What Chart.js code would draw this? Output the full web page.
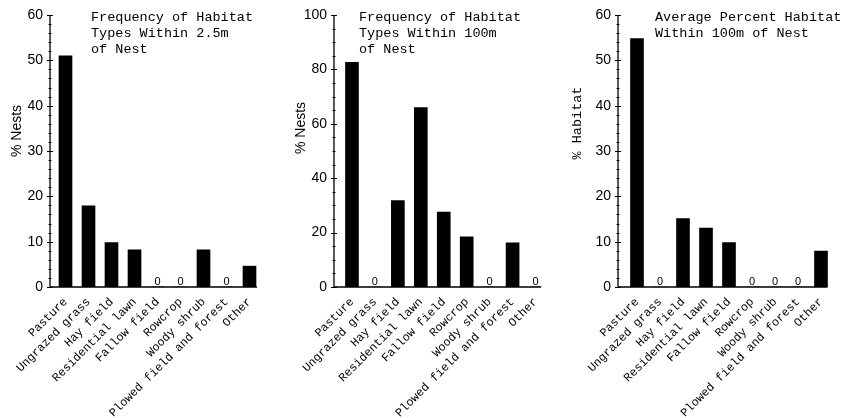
<!DOCTYPE html>
<html lang="en">
<head>
<meta charset="UTF-8">
<title>Habitat types around nests</title>
<script src="https://cdn.jsdelivr.net/npm/chart.js"></script>
<style>
  body { margin: 0; background: #fff; }
  .panel { position: absolute; top: 0; height: 418px; }
</style>
</head>
<body>
<div class="panel" style="left:0;width:280px"><canvas id="nest25"></canvas></div>
<div class="panel" style="left:280px;width:280px"><canvas id="nest100"></canvas></div>
<div class="panel" style="left:560px;width:287px"><canvas id="habitat100"></canvas></div>

<script>
// --- data ---
const habitats = ['Pasture', 'Ungrazed grass', 'Hay field', 'Residential lawn', 'Fallow field',
                  'Rowcrop', 'Woody shrub', 'Plowed field and forest', 'Other'];
const nests25m = [51.0, 17.9, 9.8, 8.2, 0, 0, 8.2, 0, 4.6];      // % nests, within 2.5 m
const nests100m = [82.6, 0, 31.8, 66.0, 27.5, 18.4, 0, 16.2, 0];  // % nests, within 100 m
const habitat100m = [54.8, 0, 15.1, 13.0, 9.8, 0, 0, 0, 7.9];     // average % habitat, within 100 m

const yMaxPct60 = 60, yMaxPct100 = 100;

Chart.defaults.color = '#000';
Chart.defaults.animation = false;
Chart.defaults.responsive = true;
Chart.defaults.maintainAspectRatio = false;

const MONO = "'Liberation Mono', 'DejaVu Sans Mono', monospace";
const SANS = "'Liberation Sans', Arial, sans-serif";

// axis lines, y tick labels, minor ticks, zero labels, inset title and y title
const decorations = {
    id: 'decorations',
    afterDraw(chart, args, o) {
        const { ctx, chartArea } = chart;
        const y = chart.scales.y;
        const y0 = y.getPixelForValue(0);
        const yTop = y.getPixelForValue(y.max);
        ctx.save();
        ctx.strokeStyle = '#000';
        ctx.lineWidth = 1.3;
        ctx.beginPath();
        ctx.moveTo(o.axisX, yTop);
        ctx.lineTo(o.axisX, y0);
        ctx.lineTo(chartArea.right - o.axisEnd, y0);
        ctx.stroke();

        ctx.lineWidth = 1;
        for (let v = 0; v <= y.max; v += o.minor) {
            const py = Math.round(y.getPixelForValue(v)) + 0.5;
            const len = v % o.major === 0 ? 3 : 1.5;
            ctx.beginPath();
            ctx.moveTo(o.axisX - len, py);
            ctx.lineTo(o.axisX + len, py);
            ctx.stroke();
        }

        // tick labels taken from the y scale
        ctx.fillStyle = '#000';
        ctx.font = '14px ' + SANS;
        ctx.textAlign = 'right';
        ctx.textBaseline = 'middle';
        y.ticks.forEach(t => ctx.fillText(String(t.value), o.axisX - 7, y.getPixelForValue(t.value)));

        // "0" over empty categories
        ctx.font = '11px ' + SANS;
        ctx.textAlign = 'center';
        ctx.textBaseline = 'alphabetic';
        const meta = chart.getDatasetMeta(0);
        chart.data.datasets[0].data.forEach((v, i) => {
            if (v === 0) ctx.fillText('0', meta.data[i].x, y0 - 2);
        });

        // title inside the plot
        ctx.font = '13.5px ' + MONO;
        ctx.textAlign = 'left';
        ctx.textBaseline = 'middle';
        o.title.forEach((line, i) => ctx.fillText(line, o.axisX + o.titleDx, 17 + i * 16));

        // y axis title
        ctx.translate(o.yTitleX, o.yTitleY);
        ctx.rotate(-Math.PI / 2);
        ctx.textAlign = 'center';
        ctx.font = o.yTitleFont;
        ctx.fillText(o.yTitle, 0, 0);
        ctx.restore();
    }
};

function makeChart(id, values, yMax, step, minor, title, yTitle, yTitleFont, g) {
    new Chart(document.getElementById(id), {
        type: 'bar',
        data: {
            labels: habitats,
            datasets: [{ data: values, backgroundColor: '#000', borderWidth: 0, barThickness: 13 }]
        },
        options: {
            layout: { padding: { left: 0, right: g.canvasW - g.plotRight, top: 15, bottom: 0 } },
            plugins: {
                legend: { display: false },
                tooltip: { enabled: false },
                decorations: {
                    axisX: g.axisX, axisEnd: g.axisEnd, major: step, minor: minor,
                    title: title, titleDx: g.titleDx,
                    yTitle: yTitle, yTitleFont: yTitleFont, yTitleX: g.yTitleX, yTitleY: g.yTitleY
                }
            },
            scales: {
                x: {
                    grid: { display: false },
                    border: { display: false },
                    ticks: { autoSkip: false, minRotation: 45, maxRotation: 45, padding: 0,
                             font: { family: MONO, size: 11.8 } },
                    afterFit(s) { s.height = 131; }
                },
                y: {
                    min: 0, max: yMax,
                    grid: { display: false },
                    border: { display: false },
                    ticks: { stepSize: step, display: false, padding: 0 },
                    afterFit(s) { s.width = g.plotLeft; }
                }
            }
        },
        plugins: [decorations]
    });
}

makeChart('nest25', nests25m, yMaxPct60, 10, 2,
    ['Frequency of Habitat', 'Types Within 2.5m', 'of Nest'], '% Nests', '14px ' + SANS,
    { canvasW: 280, axisX: 50, plotLeft: 54, plotRight: 261, axisEnd: 4, titleDx: 41, yTitleX: 17, yTitleY: 131 });

makeChart('nest100', nests100m, yMaxPct100, 20, 5,
    ['Frequency of Habitat', 'Types Within 100m', 'of Nest'], '% Nests', '14px ' + SANS,
    { canvasW: 280, axisX: 54, plotLeft: 60.5, plotRight: 267, axisEnd: 6, titleDx: 25, yTitleX: 21, yTitleY: 128 });

makeChart('habitat100', habitat100m, yMaxPct60, 10, 2,
    ['Average Percent Habitat', 'Within 100m of Nest'], '% Habitat', '13.5px ' + MONO,
    { canvasW: 287, axisX: 58, plotLeft: 65.5, plotRight: 272.5, axisEnd: 5, titleDx: 37, yTitleX: 17, yTitleY: 123 });
</script>
</body>
</html>
